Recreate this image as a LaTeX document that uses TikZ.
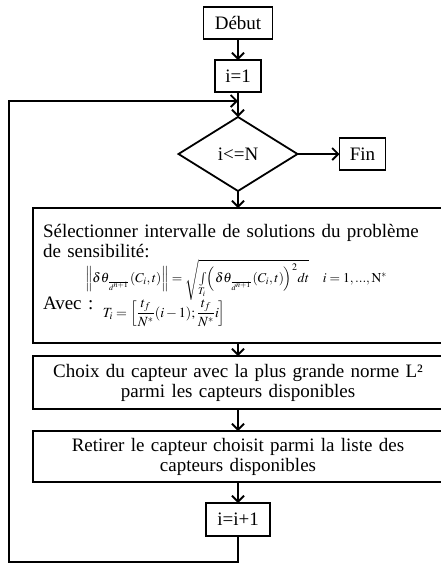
\documentclass[tikz,border=0pt]{standalone}
\usepackage{mathptmx}
\usepackage[no-math]{fontspec}
\setmainfont{Liberation Serif}
\usetikzlibrary{positioning,shapes.geometric,arrows.meta}

\tikzset{
  bloc/.style={draw, inner sep=0pt, outer sep=0pt, minimum height=32pt, align=center},
  grand/.style={draw, inner xsep=10pt, inner ysep=0pt, outer sep=0pt, text width=390pt},
  test/.style={draw, diamond, aspect=1.6, inner sep=0pt, outer sep=0pt, minimum width=119pt, minimum height=74pt}
}

\begin{document}
\begin{tikzpicture}[line width=1.8pt, >={Straight Barb[length=6pt,width=12pt]},
  font=\fontsize{19}{20}\selectfont]
\useasboundingbox (0,0) rectangle (441pt,-563pt);
\node[bloc, minimum width=69pt] (debut) at (238pt,-23pt) {Début};
\node[bloc, minimum width=46pt, below = 21pt of debut] (i1) {i=1};
\node[test, below = 25pt of i1] (test) {i<=N};
\node[bloc, minimum width=46pt, right = 42pt of test] (fin) {Fin};
\node[grand, align=left, minimum height=135pt, below = 17pt of test] (selec) {Sélectionner intervalle de solutions du problème\\
de sensibilité:\\[1pt]
\hspace*{42pt}{\fontsize{13.5}{15}\selectfont$\Bigl\|\delta\theta_{\frac{}{d^{n+1}}}(C_i,t)\Bigr\|=\sqrt{\int\limits_{T_i}\Bigl(\delta\theta_{\frac{}{d^{n+1}}}(C_i,t)\Bigr)^2dt}\quad i=1,...,\mathrm{N}^*$}\\[-5pt]
Avec : \raisebox{-8pt}{\fontsize{14}{16}\selectfont$\displaystyle T_i=\left[\frac{t_f}{N^*}(i-1);\frac{t_f}{N^*}i\right]$}};
\node[grand, align=center, minimum height=53pt, below = 13pt of selec] (choix) {Choix du capteur avec la plus grande norme L²\\ parmi les capteurs disponibles};
\node[grand, align=center, minimum height=51pt, below = 22pt of choix] (retirer) {Retirer le capteur choisit parmi la liste des\\ capteurs disponibles};
\node[bloc, minimum width=64pt, minimum height=33pt, below = 21pt of retirer] (incr) {i=i+1};
\coordinate[below = 9pt of i1] (jonction);
\coordinate (coin) at (9pt,-562pt);
\path (debut) edge[->] (i1);
\path (i1) edge[->] (test);
\path (test) edge[->] (fin);
\path (test) edge[->] (selec);
\path (selec) edge[->] (choix);
\path (choix) edge[->] (retirer);
\path (retirer) edge[->] (incr);
\draw[->] (incr.south) |- (coin) |- (jonction);
\end{tikzpicture}
\end{document}
